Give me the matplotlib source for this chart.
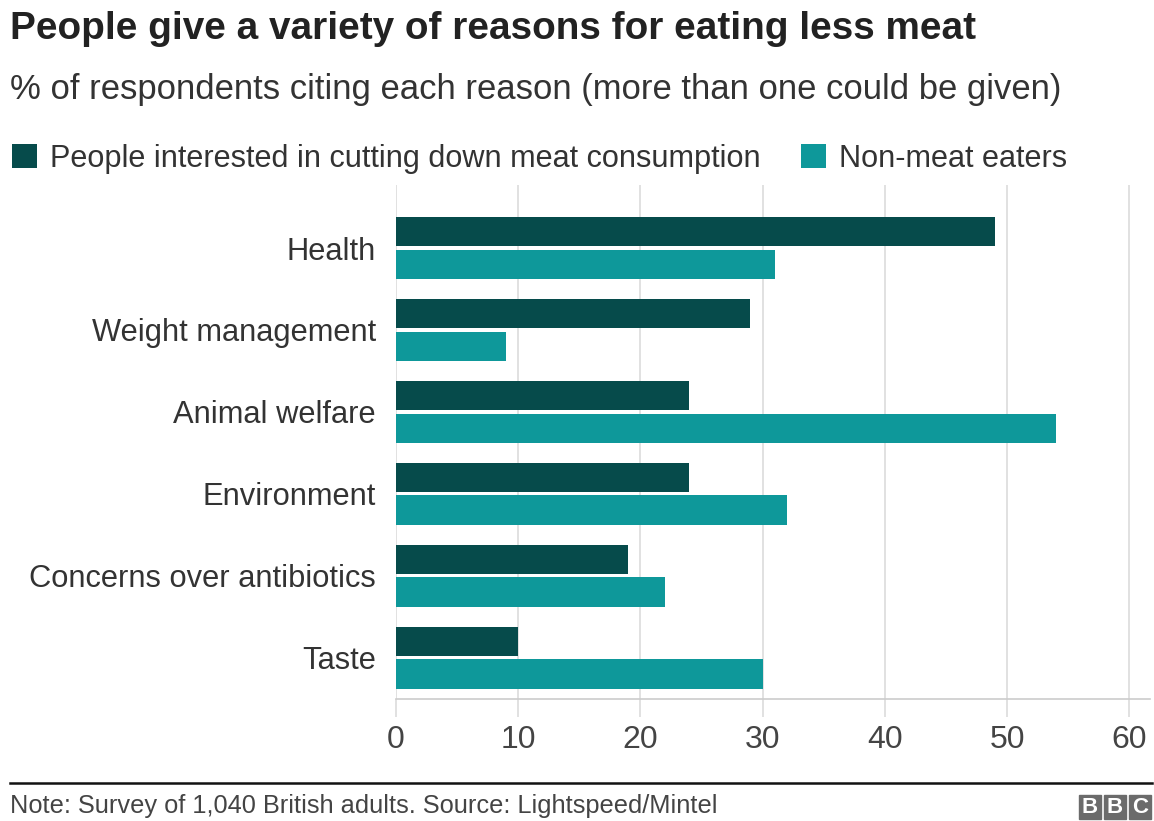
import numpy as np
import matplotlib.pyplot as plt
from matplotlib.patches import Rectangle

# ─── data ────────────────────────────────────────────────────────────────────
REASONS = ["Health", "Weight management", "Animal welfare", "Environment",
           "Concerns over antibiotics", "Taste"]
CUTTING_DOWN = [49, 29, 24, 24, 19, 10]
NON_MEAT = [31, 9, 54, 32, 22, 30]
SERIES_NAMES = ["People interested in cutting down meat consumption",
                "Non-meat eaters"]
X_TICKS = [0, 10, 20, 30, 40, 50, 60]

TITLE = "People give a variety of reasons for eating less meat"
SUBTITLE = "% of respondents citing each reason (more than one could be given)"
NOTE = "Note: Survey of 1,040 British adults. Source: Lightspeed/Mintel"

COLOR_DARK = "#064b4b"
COLOR_TEAL = "#0e989a"
COLOR_GRID = "#dcdcdc"
COLOR_TEXT = "#333333"

plt.rcParams["font.family"] = ["Liberation Sans", "DejaVu Sans"]

W, H = 1154, 821
fig = plt.figure(figsize=(W / 100, H / 100), dpi=100)
fig.patch.set_facecolor("white")

# plot area in pixel terms: left 396, right 1150, top 185, bottom 699
ax = fig.add_axes([396 / W, 1 - 699 / H, (1150 - 396) / W, (699 - 185) / H])

y = np.arange(len(REASONS))
bar_h = 0.36
ax.barh(y - 0.2, CUTTING_DOWN, height=bar_h, color=COLOR_DARK, zorder=3,
        label=SERIES_NAMES[0])
ax.barh(y + 0.2, NON_MEAT, height=bar_h, color=COLOR_TEAL, zorder=3,
        label=SERIES_NAMES[1])

ax.set_ylim(5.505, -0.77)
ax.set_xlim(0, 61.7)

ax.set_yticks(y)
ax.set_yticklabels(REASONS)
ax.tick_params(axis="y", length=0, pad=14.5, labelsize=22.2,
               labelcolor=COLOR_TEXT)

ax.set_xticks(X_TICKS)
ax.tick_params(axis="x", length=13, width=1.2, color=COLOR_GRID, pad=5.5,
               labelsize=23, labelcolor="#444444")
ax.grid(axis="x", color=COLOR_GRID, linewidth=1.2, zorder=0)

for side in ["top", "right", "left"]:
    ax.spines[side].set_visible(False)
ax.spines["bottom"].set_color("#cccccc")
ax.spines["bottom"].set_linewidth(1.2)

# ─── titles ──────────────────────────────────────────────────────────────────
fig.text(10 / W, 1 - 29 / H, TITLE, fontsize=27.9, fontweight="bold",
         color="#222222", va="center", ha="left")
fig.text(10 / W, 1 - 89 / H, SUBTITLE, fontsize=24.9, color=COLOR_TEXT,
         va="center", ha="left")

# legend
fig.legend(loc="center left", bbox_to_anchor=(12 / W, 1 - 159 / H), ncol=2,
           frameon=False, fontsize=22.1, handlelength=0.82, handleheight=0.82,
           handletextpad=0.42, columnspacing=1.3, borderpad=0,
           borderaxespad=0, labelcolor=COLOR_TEXT)

# ─── footer ──────────────────────────────────────────────────────────────────
fig.add_artist(plt.Line2D([10 / W, 1152 / W], [1 - 783 / H, 1 - 783 / H],
                          color="#111111", linewidth=1.8))
fig.text(10 / W, 1 - 806 / H, NOTE, fontsize=18.3, color="#444444",
         va="center", ha="left")

# BBC blocks
for i, letter in enumerate("BBC"):
    x0 = 1079 + i * 25
    fig.add_artist(Rectangle((x0 / W, 1 - 819 / H), 22 / W, 24 / H,
                             transform=fig.transFigure, color="#6b6b6b"))
    fig.text((x0 + 11) / W, 1 - 807 / H, letter, fontsize=16,
             fontweight="bold", color="white", ha="center", va="center")

fig.savefig("out.png", dpi=100, facecolor="white")
